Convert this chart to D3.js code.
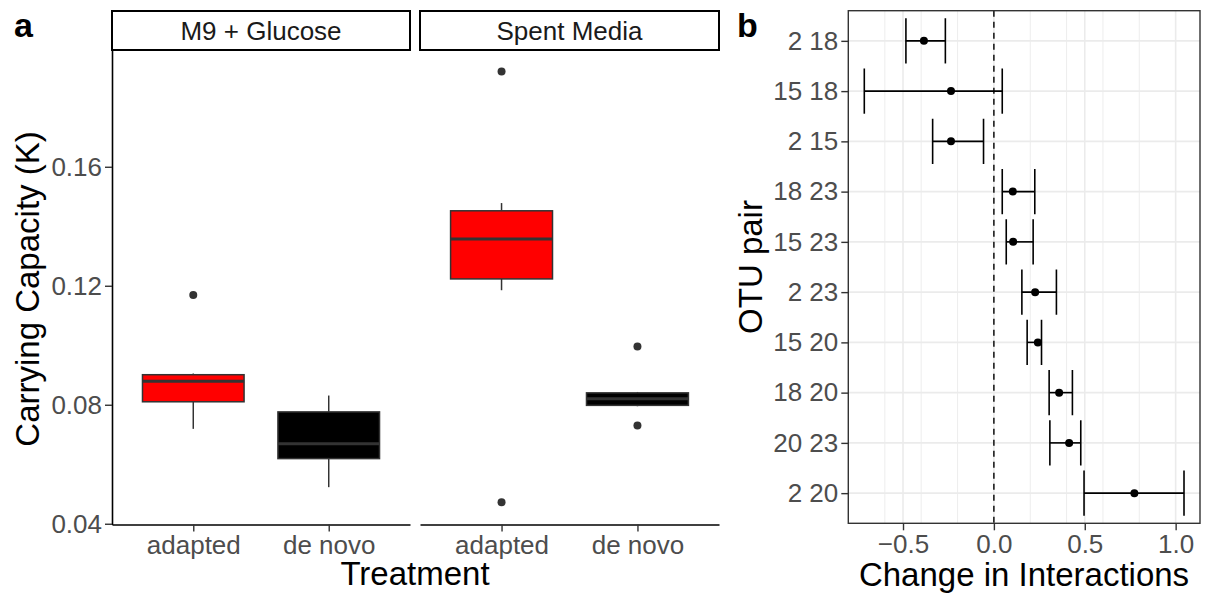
<!DOCTYPE html>
<html>
<head>
<meta charset="utf-8">
<script src="https://cdn.jsdelivr.net/npm/d3@7"></script>
<style>
  body { margin: 0; background: #fff; }
  svg { font-family: "Liberation Sans", Arial, Helvetica, sans-serif; }
</style>
</head>
<body>
<svg id="chart" width="1205" height="593"></svg>
<script>
// ---- panel a data ----
var facets = ["M9 + Glucose", "Spent Media"];
var treatments = ["adapted", "de novo"];
var boxFacet = [0, 0, 1, 1];
var boxTreat = ["adapted", "de novo", "adapted", "de novo"];
var whiskerLow = [0.0719, 0.0523, 0.1185, 0.0795];
var q1 = [0.0810, 0.0619, 0.1223, 0.0798];
var median = [0.0879, 0.0669, 0.1357, 0.0820];
var q3 = [0.0901, 0.0776, 0.1452, 0.0840];
var whiskerHigh = [0.0905, 0.0831, 0.1478, 0.0843];
var outliers = [[0.1169], [], [0.1920, 0.0472], [0.0996, 0.0730]];
var yTicksA = [0.04, 0.08, 0.12, 0.16];

// ---- panel b data ----
var pairs = ["2 18", "15 18", "2 15", "18 23", "15 23", "2 23", "15 20", "18 20", "20 23", "2 20"];
var estimate = [-0.385, -0.236, -0.236, 0.104, 0.106, 0.227, 0.242, 0.359, 0.414, 0.773];
var lower = [-0.484, -0.713, -0.337, 0.046, 0.068, 0.154, 0.183, 0.304, 0.308, 0.496];
var upper = [-0.267, 0.046, -0.057, 0.225, 0.216, 0.344, 0.262, 0.432, 0.478, 1.046];
var xTicksB = [-0.5, 0, 0.5, 1.0];

var svg = d3.select('#chart');
var tickFont = '26px', titleFont = '33px';

function styleAxis(g) {
    g.selectAll('text').style('font-size', tickFont).attr('fill', '#4d4d4d');
    g.selectAll('.tick line').attr('stroke', '#333333').attr('stroke-width', 1.4);
}

// ================= panel a =================
var aTop = 50, aBottom = 524.5;
var panelX = [[112, 410], [420, 719]];
var yA = d3.scaleLinear().domain([0.03975, 0.19925]).range([aBottom, aTop]);

var xA = panelX.map(function (r) {
    return d3.scalePoint().domain(treatments).range(r).padding(0.6);
});

// strips
facets.forEach(function (f, i) {
    svg.append('rect').attr('x', panelX[i][0]).attr('y', 11)
        .attr('width', panelX[i][1] - panelX[i][0]).attr('height', 39)
        .attr('fill', '#fff').attr('stroke', '#000').attr('stroke-width', 2);
    svg.append('text').attr('x', (panelX[i][0] + panelX[i][1]) / 2).attr('y', 39.5)
        .attr('text-anchor', 'middle').style('font-size', tickFont).attr('fill', '#1a1a1a').text(f);
});

// boxes
boxFacet.forEach(function (f, i) {
    var x = xA[f];
    var cx = x(boxTreat[i]);
    var bw = x.step() * 0.75;
    var g = svg.append('g');
    var fill = boxTreat[i] === 'adapted' ? '#ff0000' : '#000000';
    g.append('line').attr('x1', cx).attr('x2', cx).attr('y1', yA(whiskerLow[i])).attr('y2', yA(q1[i]))
        .attr('stroke', '#333333').attr('stroke-width', 1.5);
    g.append('line').attr('x1', cx).attr('x2', cx).attr('y1', yA(q3[i])).attr('y2', yA(whiskerHigh[i]))
        .attr('stroke', '#333333').attr('stroke-width', 1.5);
    g.append('rect').attr('x', cx - bw / 2).attr('width', bw)
        .attr('y', yA(q3[i])).attr('height', yA(q1[i]) - yA(q3[i]))
        .attr('fill', fill).attr('stroke', '#333333').attr('stroke-width', 1.5);
    g.append('line').attr('x1', cx - bw / 2).attr('x2', cx + bw / 2)
        .attr('y1', yA(median[i])).attr('y2', yA(median[i]))
        .attr('stroke', '#333333').attr('stroke-width', 3);
    g.selectAll('circle').data(outliers[i]).enter().append('circle')
        .attr('cx', cx).attr('cy', function (d) { return yA(d); }).attr('r', 4)
        .attr('fill', '#333333');
});

// axes panel a
var yAxisA = svg.append('g').attr('transform', 'translate(' + panelX[0][0] + ',0)')
    .call(d3.axisLeft(yA).tickValues(yTicksA).tickFormat(d3.format('.2f')).tickSize(7).tickSizeOuter(0).tickPadding(3));
styleAxis(yAxisA);
yAxisA.select('.domain').attr('stroke', '#000').attr('stroke-width', 1.6);

xA.forEach(function (x) {
    var g = svg.append('g').attr('transform', 'translate(0,' + aBottom + ')')
        .call(d3.axisBottom(x).tickSize(7).tickSizeOuter(0).tickPadding(4));
    styleAxis(g);
    g.select('.domain').attr('stroke', '#000').attr('stroke-width', 1.6);
});

svg.append('text').attr('transform', 'translate(39,289) rotate(-90)').attr('text-anchor', 'middle')
    .style('font-size', titleFont).attr('fill', '#000').text('Carrying Capacity (K)');
svg.append('text').attr('x', 415).attr('y', 585).attr('text-anchor', 'middle')
    .style('font-size', titleFont).attr('fill', '#000').text('Treatment');

// ================= panel b =================
var bLeft = 848.3, bRight = 1200, bTop = 10.7, bBottom = 523.3;
var xB = d3.scaleLinear().domain([-0.801, 1.134]).range([bLeft, bRight]);
var yB = d3.scalePoint().domain(pairs).range([bTop, bBottom]).padding(0.6);

var grid = svg.append('g');
// minor grid
xB.ticks(8).filter(function (d) { return xTicksB.indexOf(d) < 0; }).forEach(function (d) {
    grid.append('line').attr('x1', xB(d)).attr('x2', xB(d)).attr('y1', bTop).attr('y2', bBottom)
        .attr('stroke', '#ebebeb').attr('stroke-width', 0.9);
});
xTicksB.forEach(function (d) {
    grid.append('line').attr('x1', xB(d)).attr('x2', xB(d)).attr('y1', bTop).attr('y2', bBottom)
        .attr('stroke', '#ebebeb').attr('stroke-width', 1.6);
});
pairs.forEach(function (p) {
    grid.append('line').attr('x1', bLeft).attr('x2', bRight).attr('y1', yB(p)).attr('y2', yB(p))
        .attr('stroke', '#ebebeb').attr('stroke-width', 1.6);
});

// zero line
svg.append('line').attr('x1', xB(0)).attr('x2', xB(0)).attr('y1', bTop).attr('y2', bBottom)
    .attr('stroke', '#000').attr('stroke-width', 1.4).attr('stroke-dasharray', '6,5');

// error bars
var capH = yB.step() * 0.45;
var eb = svg.append('g').selectAll('g').data(pairs).enter().append('g');
eb.append('line').attr('x1', function (d, i) { return xB(lower[i]); })
    .attr('x2', function (d, i) { return xB(upper[i]); })
    .attr('y1', function (d) { return yB(d); }).attr('y2', function (d) { return yB(d); })
    .attr('stroke', '#000').attr('stroke-width', 1.6);
eb.append('line').attr('x1', function (d, i) { return xB(lower[i]); })
    .attr('x2', function (d, i) { return xB(lower[i]); })
    .attr('y1', function (d) { return yB(d) - capH; }).attr('y2', function (d) { return yB(d) + capH; })
    .attr('stroke', '#000').attr('stroke-width', 1.6);
eb.append('line').attr('x1', function (d, i) { return xB(upper[i]); })
    .attr('x2', function (d, i) { return xB(upper[i]); })
    .attr('y1', function (d) { return yB(d) - capH; }).attr('y2', function (d) { return yB(d) + capH; })
    .attr('stroke', '#000').attr('stroke-width', 1.6);
eb.append('circle').attr('cx', function (d, i) { return xB(estimate[i]); })
    .attr('cy', function (d) { return yB(d); }).attr('r', 4).attr('fill', '#000');

// border
svg.append('rect').attr('x', bLeft).attr('y', bTop).attr('width', bRight - bLeft).attr('height', bBottom - bTop)
    .attr('fill', 'none').attr('stroke', '#333333').attr('stroke-width', 1.4);

var yAxisB = svg.append('g').attr('transform', 'translate(' + bLeft + ',0)')
    .call(d3.axisLeft(yB).tickSize(7).tickSizeOuter(0).tickPadding(3));
styleAxis(yAxisB);
yAxisB.select('.domain').remove();

var xAxisB = svg.append('g').attr('transform', 'translate(0,' + bBottom + ')')
    .call(d3.axisBottom(xB).tickValues(xTicksB).tickSize(7).tickSizeOuter(0).tickPadding(4)
        .tickFormat(function (d) { return d3.format('.1f')(d).replace('-', '\u2212'); }));
styleAxis(xAxisB);
xAxisB.select('.domain').remove();

svg.append('text').attr('transform', 'translate(762,267) rotate(-90)').attr('text-anchor', 'middle')
    .style('font-size', titleFont).attr('fill', '#000').text('OTU pair');
svg.append('text').attr('x', 1024).attr('y', 586).attr('text-anchor', 'middle')
    .style('font-size', titleFont).attr('fill', '#000').text('Change in Interactions');

// panel tags
svg.append('text').attr('x', 14).attr('y', 37).style('font-size', '34px').style('font-weight', 'bold').text('a');
svg.append('text').attr('x', 737).attr('y', 37).style('font-size', '34px').style('font-weight', 'bold').text('b');
</script>
</body>
</html>
